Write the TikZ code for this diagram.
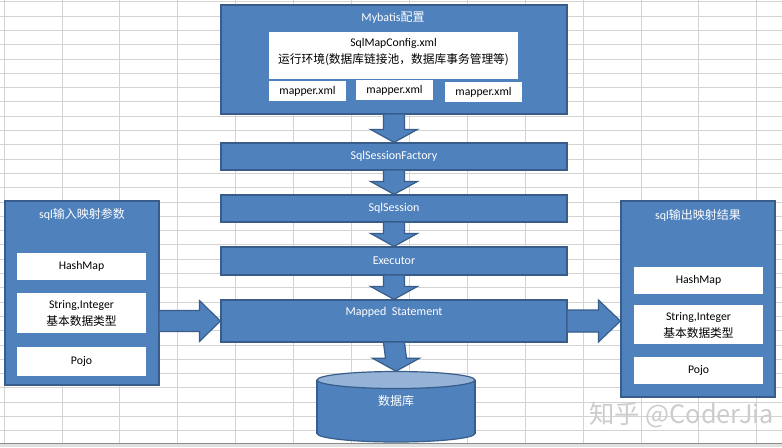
\documentclass[tikz,border=0pt]{standalone}
\usepackage{fontspec}
\setmainfont{Carlito}
\newfontfamily\cjk{Noto Sans CJK SC}
\usetikzlibrary{calc}
\definecolor{boxblue}{HTML}{4F81BD}
\definecolor{boxedge}{HTML}{385D8A}
\definecolor{dbtopc}{HTML}{95B3D7}
\definecolor{gridc}{HTML}{D3D3D3}
\newcommand\blockdown[2]{%
  \draw[blockarrow] ($(#1.south)+(-10.5,0)$) -- ($(#2.north)+(-10.5,-13)$) -- ($(#2.north)+(-23.5,-13)$) -- (#2.north) -- ($(#2.north)+(23.5,-13)$) -- ($(#2.north)+(10.5,-13)$) -- ($(#1.south)+(10.5,0)$);}
\begin{document}
\begin{tikzpicture}[x=0.75pt,y=-0.75pt,
  bluebox/.style={draw=boxedge, fill=boxblue, line width=0.9pt, inner sep=0pt},
  whitebox/.style={draw=none, fill=white, inner sep=0pt, align=center, text=black, font=\fontsize{8.8}{10}\selectfont},
  bluetext/.style={text=white, font=\fontsize{9}{10}\selectfont, inner sep=0pt},
  blockarrow/.style={draw=boxedge, fill=boxblue, line width=0.9pt, line join=miter},
  gridline/.style={draw=gridc, line width=0.6pt},
]
\useasboundingbox (0,0) rectangle (782,447);
\fill[white] (0,0) rectangle (782,447);
% spreadsheet grid
\foreach \i in {0,...,13} \draw[gridline] ({4+57.9*\i},0) -- ({4+57.9*\i},443);
\foreach \j in {0,...,30} \draw[gridline] (0,{1.7+14.3*\j}) -- (782,{1.7+14.3*\j});
\fill[black!12] (0,443) rectangle (782,447);
\draw[black!45, line width=0.6pt] (0,443) -- (782,443);

% Mybatis config
\node[bluebox, minimum width=346*0.75pt, minimum height=109*0.75pt] (cfg) at (394,59.5) {};
\node[bluetext] (cfgtitle) at (393,18) {Mybatis{\cjk 配置}};
\node[whitebox, minimum width=249*0.75pt, minimum height=47*0.75pt] (smc) at (393.5,55.5) {};
\node[whitebox] (smc1) at (393.5,43) {SqlMapConfig.xml};
\node[whitebox, font=\cjk\fontsize{8.8}{10}\selectfont] (smc2) at (393.5,60) {运行环境(数据库链接池，数据库事务管理等)};
\node[whitebox, minimum width=77*0.75pt, minimum height=20*0.75pt] (m1) at (307.5,91) {mapper.xml};
\node[whitebox, minimum width=77*0.75pt, minimum height=20*0.75pt] (m2) at (394.5,90) {mapper.xml};
\node[whitebox, minimum width=77*0.75pt, minimum height=20*0.75pt] (m3) at (483.5,92) {mapper.xml};

% chain
\node[bluebox, bluetext, minimum width=346*0.75pt, minimum height=27*0.75pt] (ssf) at (394,156.5) {SqlSessionFactory};
\node[bluebox, bluetext, minimum width=346*0.75pt, minimum height=27*0.75pt] (ss) at (394,208.5) {SqlSession};
\node[bluebox, bluetext, minimum width=346*0.75pt, minimum height=28*0.75pt] (exe) at (394,261) {Executor};
\node[bluebox, minimum width=346*0.75pt, minimum height=42*0.75pt] (ms) at (394,321) {};
\node[bluetext] (mstext) at (394,312) {Mapped\ \ Statement};

% database cylinder
\filldraw[draw=boxedge, fill=boxblue, line width=0.9pt] (396,433.5) ellipse [x radius=79, y radius=8.5];
\fill[boxblue] (317,380) rectangle (475,433.5);
\draw[boxedge, line width=0.9pt] (317,380) -- (317,433.5) (475,380) -- (475,433.5);
\filldraw[draw=boxedge, fill=dbtopc, line width=0.9pt] (396,380) ellipse [x radius=79, y radius=8.5];
\node[minimum width=158*0.75pt, minimum height=71*0.75pt, inner sep=0pt] (db) at (396,407) {};
\node[bluetext, font=\cjk\fontsize{9}{10}\selectfont] (dbtext) at (396,401) {数据库};

% down arrows
\blockdown{cfg}{ssf}
\blockdown{ssf}{ss}
\blockdown{ss}{exe}
\blockdown{exe}{ms}
\blockdown{ms}{db}

% input box
\node[bluebox, minimum width=154*0.75pt, minimum height=184*0.75pt] (lin) at (82,293) {};
\node[bluetext] (lintitle) at (82,214) {sql{\cjk 输入映射参数}};
\node[whitebox, minimum width=129*0.75pt, minimum height=27*0.75pt] (l1) at (81.5,266.5) {HashMap};
\node[whitebox, minimum width=129*0.75pt, minimum height=40*0.75pt] (l2) at (81.5,313) {};
\node[whitebox] (l2a) at (81.5,305) {String,Integer};
\node[whitebox, font=\cjk\fontsize{8.8}{10}\selectfont] (l2b) at (81.5,321) {基本数据类型};
\node[whitebox, minimum width=129*0.75pt, minimum height=29*0.75pt] (l3) at (81.5,361.5) {Pojo};

% output box
\node[bluebox, minimum width=154*0.75pt, minimum height=196*0.75pt] (rout) at (698,299) {};
\node[bluetext] (routtitle) at (698,215) {sql{\cjk 输出映射结果}};
\node[whitebox, minimum width=129*0.75pt, minimum height=27*0.75pt] (r1) at (698.5,280.5) {HashMap};
\node[whitebox, minimum width=129*0.75pt, minimum height=39*0.75pt] (r2) at (698.5,324.5) {};
\node[whitebox] (r2a) at (698.5,317) {String,Integer};
\node[whitebox, font=\cjk\fontsize{8.8}{10}\selectfont] (r2b) at (698.5,333) {基本数据类型};
\node[whitebox, minimum width=129*0.75pt, minimum height=27*0.75pt] (r3) at (698.5,370.5) {Pojo};

% side arrows
\draw[blockarrow] ($(lin.east |- ms.west)+(0,-10.5)$) -- ($(ms.west)+(-21,-10.5)$) -- ($(ms.west)+(-21,-20.5)$) -- (ms.west) -- ($(ms.west)+(-21,20.5)$) -- ($(ms.west)+(-21,10.5)$) -- ($(lin.east |- ms.west)+(0,10.5)$);
\draw[blockarrow] ($(ms.east)+(0,-11)$) -- ($(rout.west |- ms.east)+(-22,-11)$) -- ($(rout.west |- ms.east)+(-22,-21)$) -- (rout.west |- ms.east) -- ($(rout.west |- ms.east)+(-22,21)$) -- ($(rout.west |- ms.east)+(-22,11)$) -- ($(ms.east)+(0,11)$);

% watermark
\node[text=black!20, font=\cjk\fontsize{19}{20}\selectfont, anchor=west, inner sep=0pt] (wm) at (589,415) {知乎 @CoderJia};
\end{tikzpicture}
\end{document}
